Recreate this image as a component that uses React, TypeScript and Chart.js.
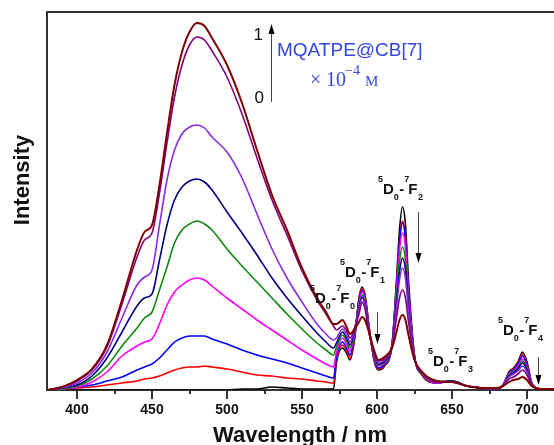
import { useEffect, useRef } from 'react';
import { Chart, registerables } from 'chart.js';

Chart.register(...registerables);

// Wavelength grid (nm)
const WAVELENGTH = [
  380, 390, 400, 410, 420, 430, 440, 445, 450, 455, 460, 465, 470, 475, 480, 485, 490,
  500, 510, 520, 530, 540, 550, 560, 566, 571,
  573, 577, 580, 582, 585, 588, 590, 592, 595, 598, 601, 605,
  610, 613, 615, 617, 619, 621, 625, 630,
  640, 650, 660, 670, 680,
  684, 688, 691, 694, 697, 700, 703, 706, 710, 720,
];

const X_TICKS = [400, 450, 500, 550, 600, 650, 700];
const X_MINOR_TICKS = [425, 475, 525, 575, 625, 675];

// Intensity series (arbitrary units), lowest broad band to highest
const S_BLACK = [
  0, 0, 0, 0, 0, 0, 0, 0, 0, 0, 0, 0, 0, 0, 0, 0, 0, 0, 1, 1, 3, 2, 1, 1, 1, 1,
  28, 42, 36, 30, 50, 92, 103, 95, 60, 30, 20, 24, 45, 110, 160, 183, 165, 110, 35, 15,
  7, 9, 4, 2, 1, 5, 18, 22, 28, 38, 28, 8, 2, 1, 1,
];
const S_RED = [
  0, 1, 2, 3, 5, 7, 9, 11, 12, 14, 17, 20, 22, 23, 23, 24, 23, 21, 18, 15, 14, 12, 11, 9, 8, 7,
  30, 45, 38, 32, 52, 91, 102, 94, 60, 31, 21, 25, 45, 105, 150, 169, 153, 102, 34, 15,
  7, 9, 4, 2, 1, 5, 17, 21, 27, 36, 26, 8, 2, 1, 1,
];
const S_BLUE = [
  0, 1, 3, 5, 9, 13, 20, 23, 26, 32, 40, 48, 52, 54, 54, 54, 51, 46, 40, 35, 31, 27, 22, 17, 14, 12,
  33, 48, 41, 35, 54, 89, 100, 92, 59, 32, 22, 26, 45, 104, 148, 167, 150, 100, 34, 16,
  7, 9, 4, 2, 1, 5, 17, 20, 26, 34, 25, 7, 2, 1, 1,
];
const S_MAGENTA = [
  0, 1, 3, 8, 18, 34, 44, 48, 51, 66, 85, 98, 105, 110, 112, 110, 104, 92, 81, 70, 60, 50, 40, 31, 26, 23,
  38, 52, 45, 39, 56, 86, 98, 90, 58, 33, 24, 27, 45, 100, 140, 157, 142, 96, 33, 16,
  7, 9, 4, 2, 1, 5, 16, 19, 24, 31, 23, 7, 2, 1, 1,
];
const S_GREEN = [
  0, 1, 4, 11, 24, 44, 62, 72, 78, 100, 123, 147, 160, 166, 169, 166, 160, 141, 124, 108, 92, 76, 61, 47, 40, 35,
  43, 55, 48, 42, 58, 84, 95, 88, 57, 35, 25, 28, 44, 94, 128, 143, 130, 90, 33, 16,
  8, 9, 4, 2, 1, 5, 15, 18, 22, 29, 21, 7, 2, 1, 1,
];
const S_NAVY = [
  0, 2, 5, 14, 32, 58, 84, 92, 96, 130, 165, 190, 203, 209, 211, 208, 200, 178, 157, 135, 112, 92, 74, 57, 48, 42,
  47, 58, 51, 45, 60, 82, 93, 86, 56, 36, 26, 29, 44, 88, 118, 132, 120, 84, 32, 17,
  8, 9, 4, 2, 1, 5, 14, 17, 21, 27, 20, 6, 2, 1, 1,
];
const S_VIOLET = [
  0, 2, 7, 17, 38, 72, 105, 113, 120, 165, 210, 240, 256, 263, 265, 262, 253, 238, 212, 176, 141, 112, 88, 66, 56, 50,
  52, 61, 54, 48, 61, 80, 92, 85, 56, 37, 27, 30, 44, 82, 110, 122, 111, 80, 32, 17,
  8, 8, 4, 2, 1, 5, 13, 16, 19, 24, 18, 6, 2, 1, 1,
];
const S_PURPLE = [
  0, 3, 9, 20, 43, 86, 133, 150, 157, 197, 247, 293, 325, 345, 353, 350, 339, 313, 276, 232, 190, 155, 119, 90, 76, 64,
  60, 64, 58, 52, 61, 76, 88, 81, 55, 38, 29, 31, 43, 72, 92, 100, 92, 68, 31, 18,
  8, 8, 4, 2, 1, 4, 11, 13, 16, 20, 15, 5, 2, 1, 1,
];
const S_DARKRED = [
  0, 3, 10, 21, 45, 90, 140, 158, 165, 205, 257, 305, 338, 358, 367, 364, 352, 325, 287, 240, 195, 160, 122, 92, 78, 66,
  66, 70, 62, 56, 61, 68, 73, 70, 56, 40, 30, 33, 42, 58, 70, 75, 70, 55, 30, 18,
  9, 8, 4, 2, 2, 4, 8, 10, 11, 13, 10, 4, 2, 1, 1,
];

const SERIES = [S_DARKRED, S_PURPLE, S_VIOLET, S_NAVY, S_GREEN, S_MAGENTA, S_BLUE, S_RED, S_BLACK];
const COLORS = ['#800000', '#800080', '#8A2BE2', '#000080', '#0A8A0A', '#FF00FF', '#0000FF', '#FF0000', '#000000'];

const SANS = '"Liberation Sans", Arial, sans-serif';
const SERIF = '"Liberation Serif", "Times New Roman", serif';

function drawArrow(ctx: CanvasRenderingContext2D, x: number, yTail: number, yTip: number) {
  const dir = yTip > yTail ? 1 : -1;
  const headLen = 10;
  ctx.save();
  ctx.strokeStyle = '#444';
  ctx.lineWidth = 1;
  ctx.beginPath();
  ctx.moveTo(x, yTail);
  ctx.lineTo(x, yTip - dir * headLen + dir * 2);
  ctx.stroke();
  ctx.fillStyle = '#000';
  ctx.beginPath();
  ctx.moveTo(x, yTip);
  ctx.lineTo(x - 3, yTip - dir * headLen);
  ctx.lineTo(x + 3, yTip - dir * headLen);
  ctx.closePath();
  ctx.fill();
  ctx.restore();
}

function drawTransition(ctx: CanvasRenderingContext2D, x0: number, yb: number, lower: string) {
  const big = `bold 15px ${SANS}`;
  const small = `bold 9px ${SANS}`;
  ctx.save();
  ctx.fillStyle = '#111';
  ctx.textAlign = 'left';
  ctx.textBaseline = 'alphabetic';
  let x = x0;
  ctx.font = small;
  ctx.fillText('5', x, yb - 12);
  x += ctx.measureText('5').width;
  ctx.font = big;
  ctx.fillText('D', x, yb);
  x += ctx.measureText('D').width;
  ctx.font = small;
  ctx.fillText('0', x, yb + 6);
  x += ctx.measureText('0').width + 0.5;
  ctx.font = big;
  ctx.fillText('-', x, yb);
  x += ctx.measureText('-').width;
  ctx.font = small;
  ctx.fillText('7', x, yb - 12);
  x += ctx.measureText('7').width - 1;
  ctx.font = big;
  ctx.fillText('F', x, yb);
  x += ctx.measureText('F').width + 0.5;
  ctx.font = small;
  ctx.fillText(lower, x, yb + 6);
  ctx.restore();
}

const decorPlugin = {
  id: 'decor',
  afterDraw(chart: any) {
    const ctx: CanvasRenderingContext2D = chart.ctx;
    const { left, right, top, bottom } = chart.chartArea;
    const xs = chart.scales.x;
    ctx.save();
    // top frame line
    ctx.strokeStyle = '#333';
    ctx.lineWidth = 2;
    ctx.beginPath();
    ctx.moveTo(left - 1, top);
    ctx.lineTo(right, top);
    ctx.stroke();
    // ticks
    ctx.lineWidth = 2;
    X_TICKS.forEach((v) => {
      const px = Math.round(xs.getPixelForValue(v));
      ctx.beginPath();
      ctx.moveTo(px, bottom);
      ctx.lineTo(px, bottom + 9);
      ctx.stroke();
    });
    X_MINOR_TICKS.forEach((v) => {
      const px = Math.round(xs.getPixelForValue(v));
      ctx.beginPath();
      ctx.moveTo(px, bottom);
      ctx.lineTo(px, bottom + 4);
      ctx.stroke();
    });
    // axis titles
    ctx.fillStyle = '#111';
    ctx.font = `bold 22px ${SANS}`;
    ctx.textAlign = 'center';
    ctx.textBaseline = 'alphabetic';
    ctx.fillText('Wavelength / nm', 300, 442);
    ctx.save();
    ctx.translate(29, 180);
    ctx.rotate(-Math.PI / 2);
    ctx.fillText('Intensity', 0, 0);
    ctx.restore();

    // concentration arrow & labels
    drawArrow(ctx, 271.5, 102, 24);
    ctx.fillStyle = '#111';
    ctx.font = `17px ${SANS}`;
    ctx.textAlign = 'right';
    ctx.fillText('1', 263, 40);
    ctx.fillText('0', 264, 103);

    ctx.textAlign = 'left';
    ctx.fillStyle = '#3347e6';
    ctx.font = `19px ${SANS}`;
    ctx.fillText('MQATPE@CB[7]', 277, 56);
    ctx.font = `20px ${SERIF}`;
    ctx.fillText('\u00d7', 310, 86);
    ctx.fillText('10', 326, 86);
    ctx.font = `14px ${SERIF}`;
    ctx.fillText('\u22124', 345, 75);
    ctx.font = `15px ${SERIF}`;
    ctx.fillText('M', 365, 86);

    // transitions
    drawTransition(ctx, 378, 194, '2');
    drawTransition(ctx, 340, 277, '1');
    drawTransition(ctx, 310, 303, '0');
    drawTransition(ctx, 428, 366, '3');
    drawTransition(ctx, 498, 335, '4');

    drawArrow(ctx, 418.5, 212, 263);
    drawArrow(ctx, 377.5, 312, 344);
    drawArrow(ctx, 538.5, 357, 385);
    ctx.restore();
  },
};

export default function App() {
  const canvasRef = useRef<HTMLCanvasElement | null>(null);

  useEffect(() => {
    const canvas = canvasRef.current;
    if (!canvas) return;
    const chart = new Chart(canvas, {
      type: 'line',
      data: {
        datasets: SERIES.map((s, i) => ({
          label: `s${i}`,
          data: WAVELENGTH.map((x, j) => ({ x, y: s[j] })),
          borderColor: COLORS[i],
          backgroundColor: COLORS[i],
          borderWidth: i === 0 ? 2 : 1.6,
          pointRadius: 0,
          fill: false,
          cubicInterpolationMode: 'monotone' as const,
          order: i,
        })),
      },
      options: {
        animation: false,
        responsive: false,
        devicePixelRatio: 1,
        layout: { padding: { top: 12, right: 13, left: 0, bottom: 0 } },
        plugins: {
          legend: { display: false },
          tooltip: { enabled: false },
          title: { display: false },
        },
        scales: {
          x: {
            type: 'linear',
            min: 380,
            max: 720,
            grid: { display: false, drawTicks: false },
            border: { display: true, color: '#333', width: 2 },
            ticks: {
              padding: 12,
              color: '#111',
              font: { family: SANS, size: 14, weight: 'bold' },
              maxRotation: 0,
              autoSkip: false,
            },
            afterBuildTicks: (scale: any) => {
              scale.ticks = X_TICKS.map((v) => ({ value: v }));
            },
            afterFit: (scale: any) => {
              scale.height = 55;
            },
          },
          y: {
            type: 'linear',
            min: 0,
            max: 378,
            grid: { display: false, drawTicks: false },
            border: { display: true, color: '#333', width: 2 },
            ticks: { display: false },
            afterFit: (scale: any) => {
              scale.width = 47;
            },
          },
        },
      },
      plugins: [decorPlugin],
    } as any);
    return () => chart.destroy();
  }, []);

  return (
    <div style={{ position: 'absolute', left: 0, top: 0, width: 554, height: 445, overflow: 'hidden', background: '#fff' }}>
      <canvas ref={canvasRef} width={570} height={445} style={{ display: 'block', width: 570, height: 445 }} />
    </div>
  );
}
